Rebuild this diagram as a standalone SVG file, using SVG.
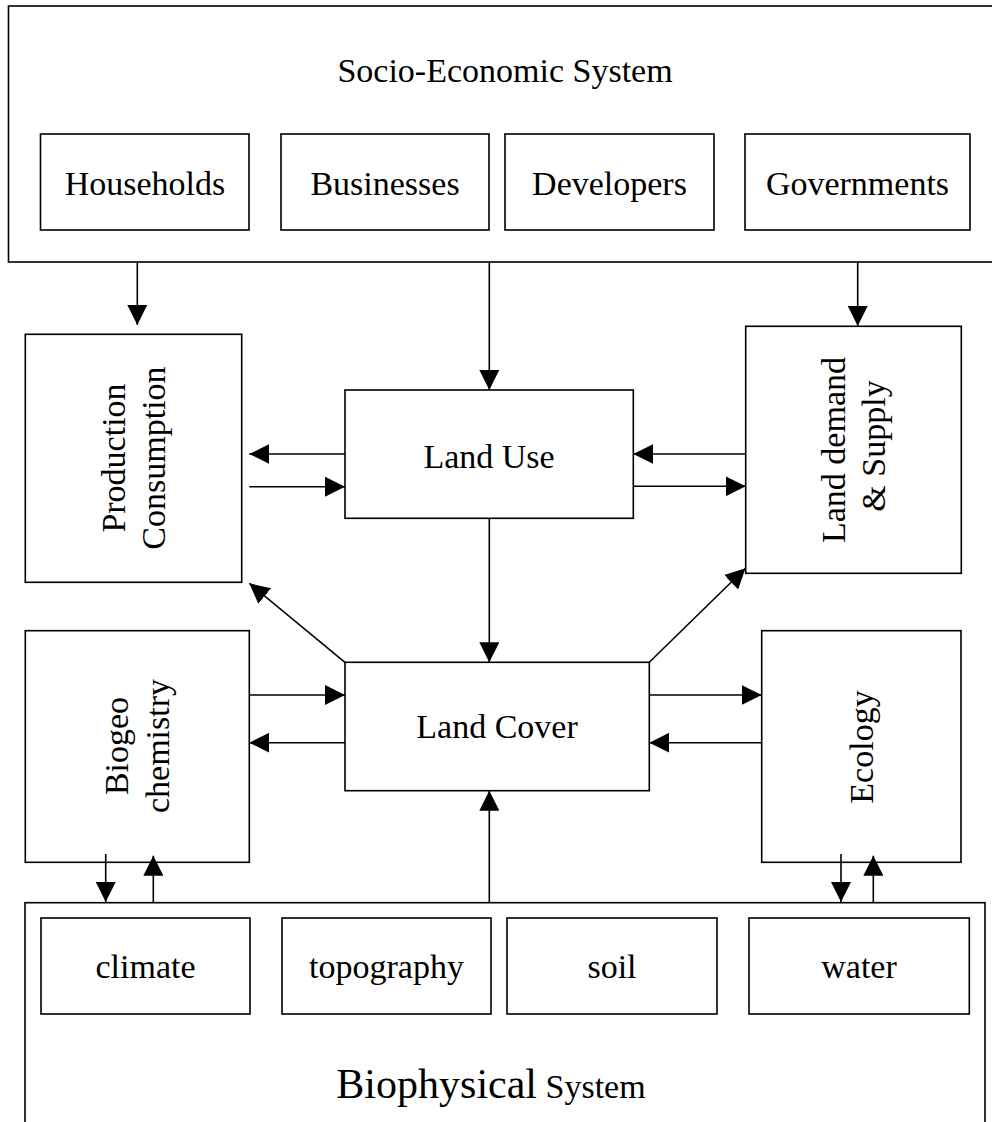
<svg xmlns="http://www.w3.org/2000/svg" width="992" height="1122" viewBox="0 0 992 1122">
<style>
rect{fill:none;stroke:#000;stroke-width:1.6}
text{font-family:"Liberation Serif","Times New Roman",serif;font-size:34px;fill:#000;text-anchor:middle}
.c path{fill:none;stroke:#000;stroke-width:1.6;marker-end:url(#ah)}
</style>
<defs>
<marker id="ah" markerUnits="userSpaceOnUse" markerWidth="20" markerHeight="20" refX="20" refY="10" orient="auto" viewBox="0 0 20 20">
<path d="M0,0 L20,10 L0,20 z" fill="#000"/>
</marker>
</defs>
<rect x="0" y="0" width="992" height="1122" style="fill:#fff;stroke:none"/>
<g id="socio">
<rect x="8.5" y="6" width="1000" height="256"/>
<text x="505" y="82">Socio-Economic System</text>
</g>
<g id="households"><rect x="40.5" y="134" width="208.5" height="96"/><text x="145" y="195">Households</text></g>
<g id="businesses"><rect x="281" y="134" width="208" height="96"/><text x="385" y="195">Businesses</text></g>
<g id="developers"><rect x="505" y="134" width="209" height="96"/><text x="609.5" y="195">Developers</text></g>
<g id="governments"><rect x="745" y="134" width="225" height="96"/><text x="857.5" y="195">Governments</text></g>
<g id="production"><rect x="25.3" y="334.3" width="216.4" height="248"/>
<text transform="rotate(-90 125 458)" x="125" y="458">Production</text>
<text transform="rotate(-90 165 458)" x="165" y="458">Consumption</text></g>
<g id="landuse"><rect x="345" y="390" width="288.3" height="128.3"/><text x="489" y="468">Land Use</text></g>
<g id="landdemand"><rect x="745.7" y="326.3" width="215.6" height="247"/>
<text transform="rotate(-90 845 450)" x="845" y="450">Land demand</text>
<text transform="rotate(-90 885 446)" x="885" y="446">&amp; Supply</text></g>
<g id="biogeo"><rect x="25.3" y="630.7" width="224" height="231.6"/>
<text transform="rotate(-90 128 746)" x="128" y="746">Biogeo</text>
<text transform="rotate(-90 169 746)" x="169" y="746">chemistry</text></g>
<g id="landcover"><rect x="345" y="662.3" width="304.3" height="128.4"/><text x="497" y="738">Land Cover</text></g>
<g id="ecology"><rect x="761.7" y="630.7" width="199.3" height="231.6"/>
<text transform="rotate(-90 872.5 747)" x="872.5" y="747">Ecology</text></g>
<g id="biophysical">
<rect x="25" y="902.7" width="960" height="260"/>
<text x="491" y="1098"><tspan style="font-size:42px">Biophysical</tspan> System</text>
</g>
<g id="climate"><rect x="41" y="918" width="209" height="96"/><text x="145.5" y="978">climate</text></g>
<g id="topography"><rect x="282" y="918" width="209" height="96"/><text x="386.5" y="978">topography</text></g>
<g id="soil"><rect x="507" y="918" width="210" height="96"/><text x="612" y="978">soil</text></g>
<g id="water"><rect x="749" y="918" width="220.3" height="96"/><text x="859" y="978">water</text></g>
<g id="connectors" class="c">
<path d="M137.3,262 V325"/>
<path d="M489.3,262 V390"/>
<path d="M857.7,262 V326"/>
<path d="M345,454 H249.3"/>
<path d="M249.3,486.7 H345"/>
<path d="M745.7,454 H633.3"/>
<path d="M633.3,486.3 H745.7"/>
<path d="M489.3,518.3 V662.3"/>
<path d="M345,662.3 L249.3,583.3"/>
<path d="M649.3,662.3 L745.5,568.3"/>
<path d="M249.3,695 H345"/>
<path d="M345,742.7 H249.3"/>
<path d="M649.3,695 H761.7"/>
<path d="M761.7,742.7 H649.3"/>
<path d="M489.3,902.7 V790.7"/>
<path d="M105.7,854 V902"/>
<path d="M153.3,902.7 V855.7"/>
<path d="M841,854 V902"/>
<path d="M873.3,902.7 V855.7"/>
</g>
</svg>
